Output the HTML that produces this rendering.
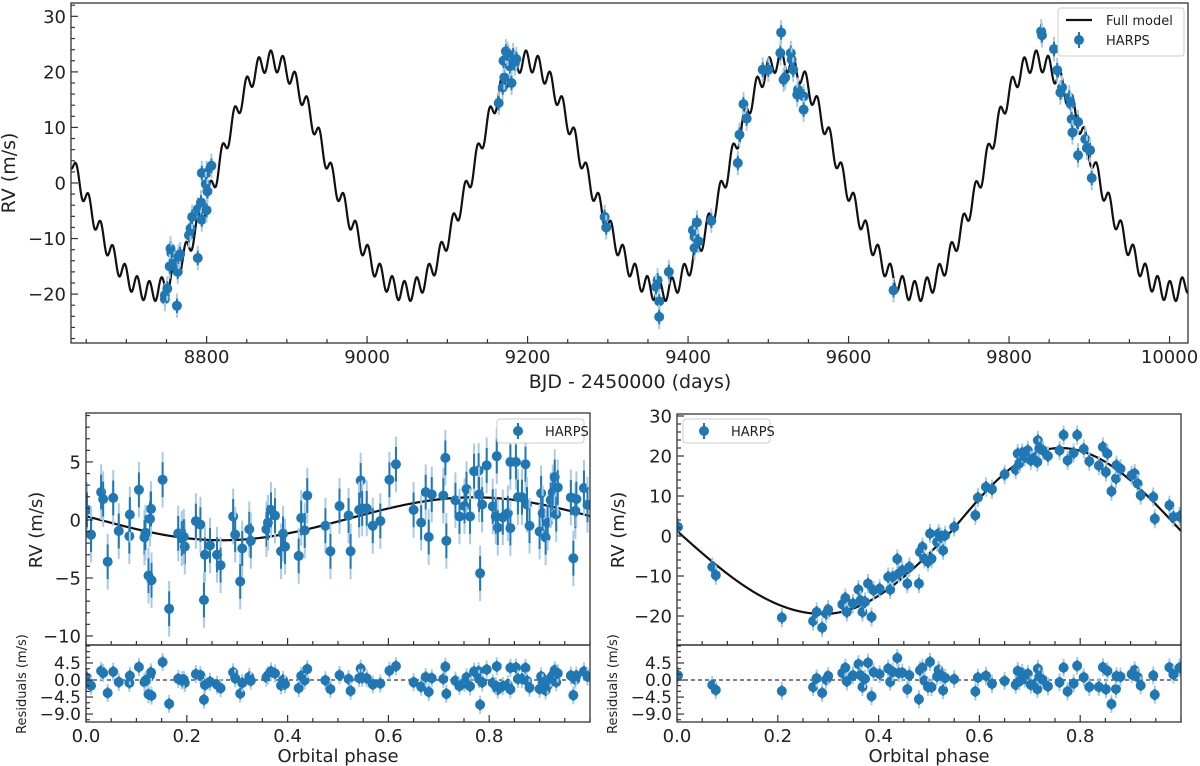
<!DOCTYPE html>
<html><head><meta charset="utf-8">
<style>
body{margin:0;background:#fff;}
svg{display:block;font-family:"DejaVu Sans","Liberation Sans",sans-serif;}
</style></head>
<body>
<svg id="fig" width="1200" height="766" viewBox="0 0 1200 766" xmlns="http://www.w3.org/2000/svg">
<rect width="1200" height="766" fill="#fff"/>
</svg>
<script>
const topTimes=[8748,8748,8751,8755,8756,8754,8760,8763,8764,8765,8767,8778,8780,8782,8789,8789,8793,8794,8794,8800,8799,8800,8801,8806,
9164,9169,9171,9170,9173,9176,9178,9180,9182,9184,9186,9175,9296,9298,
9362,9360,9364,9364,9376,9406,9408,9411,9408,9413,9429,9462,9464,9469,9473,9493,9500,9516,9515,9519,9521,9528,9529,9531,9537,9536,9544,9544,
9656,9840,9841,9856,9860,9866,9864,9875,9877,9878,9886,9879,9895,9897,9901,9886,9903];
const topRV=[-20.9,-20.2,-19,-11.8,-12.6,-15,-14.5,-22.1,-16,-13.3,-12.8,-9.4,-8.2,-6.1,-13.5,-4.7,-3.5,-6.6,1.8,1.8,-0.2,-4.9,-1.5,3.1,
14.4,17.2,19,22,23.7,22.8,21,18,23,21.5,22.3,23.3,-6.1,-8,
-17.5,-18.7,-21.3,-24.1,-16,-8.5,-9.7,-7.1,-11.7,-10.5,-6.8,3.6,8.7,14.2,11.6,20.4,20.4,27.1,23.4,18.6,19,23.4,22.2,20.4,16.8,15.9,15.6,13.2,
-19.3,27.3,26.6,24.1,20.3,17.2,16.3,15.4,14.2,11.5,11,9.1,7.9,6.3,5.9,5,0.9];
const leftPhase=[0.002,0.01,0.03,0.034,0.043,0.054,0.065,0.086,0.087,0.105,0.116,0.124,0.127,0.13,0.129,0.118,0.152,0.165,0.183,0.19,0.196,0.194,0.218,0.227,0.234,0.236,0.246,0.26,0.267,0.292,0.296,0.306,0.31,0.324,0.327,0.358,0.361,0.367,0.375,0.387,0.391,0.395,0.422,0.427,0.434,0.439,0.475,0.485,0.503,0.521,0.525,0.545,0.542,0.548,0.557,0.569,0.584,0.602,0.615,0.65,0.665,0.674,0.68,0.686,0.709,0.713,0.715,0.733,0.741,0.751,0.755,0.762,0.77,0.779,0.78,0.782,0.786,0.795,0.807,0.815,0.817,0.813,0.827,0.837,0.842,0.842,0.853,0.857,0.865,0.872,0.875,0.88,0.9,0.903,0.906,0.912,0.916,0.922,0.926,0.93,0.933,0.936,0.962,0.967,0.971,0.973,0.988,0.995];
const leftRV=[0.87,-1.27,2.4,1.8,-3.6,1.9,-0.95,-1.4,0.46,2.6,-1.5,-4.8,0.09,-5.2,0.95,-1.1,3.47,-7.66,-1.16,-1.6,-2.3,-1.45,-0.1,-0.4,-6.9,-3.0,-2.2,-3.0,-3.9,0.3,-1.27,-5.3,-2.46,-0.8,-1.8,-0.8,-0.23,0.87,0.38,-2.7,-1.2,-2.3,-3.1,0.17,-0.9,2.1,-0.5,-2.7,1.2,0.38,-2.7,3.4,0.87,1.0,1.0,-0.5,-0.09,3.47,4.8,0.87,-0.23,2.4,-1.47,2.2,2.1,5.35,-1.8,1.7,0.3,1.2,2.66,0.3,4.2,4.25,2.2,-4.6,1.33,4.7,1.16,5.5,-0.66,0.3,0.23,0.58,-0.7,5.0,5.0,1.97,1.97,4.8,1.33,-0.5,-1.0,2.3,0.58,-1.5,-0.23,1.7,2.37,3.7,0.5,2.8,1.94,-3.3,0.78,1.8,2.75,1.3];
const rightPhase=[0.002,0.07,0.077,0.208,0.27,0.277,0.288,0.296,0.3,0.328,0.334,0.337,0.349,0.36,0.364,0.368,0.373,0.379,0.386,0.39,0.402,0.419,0.423,0.428,0.437,0.44,0.447,0.457,0.461,0.48,0.482,0.487,0.491,0.498,0.502,0.505,0.516,0.519,0.523,0.528,0.532,0.55,0.592,0.597,0.613,0.625,0.65,0.672,0.676,0.679,0.685,0.69,0.696,0.702,0.71,0.715,0.716,0.719,0.726,0.736,0.759,0.767,0.775,0.787,0.794,0.807,0.818,0.837,0.845,0.851,0.854,0.862,0.871,0.872,0.88,0.902,0.908,0.914,0.92,0.945,0.948,0.977,0.985,0.997];
const rightRV=[2.25,-7.75,-9.8,-20.4,-21.25,-19,-22.9,-19.4,-18.4,-17.1,-15.5,-19,-16.9,-13.4,-16.1,-19,-16.5,-11.9,-20.25,-13.6,-13.2,-10.25,-13.4,-10.25,-5.75,-9.4,-8.6,-11.9,-7.75,-11.9,-4,-2.75,-5.7,-6.5,0.6,-5.7,-1.5,0.6,-0.25,-3.6,0.17,2.25,5.2,9.6,12.25,11.7,15.4,16.6,20.6,18.1,20.8,19.75,21.4,18.9,19.6,18.5,23.9,22,21.4,20,21.4,25.25,18.9,20.75,25.25,21.75,18.7,17.6,22.25,16,20.6,11.2,14.4,17.7,16.8,15.2,15.6,13.1,10.2,9.75,4.3,7.7,4.75,4.9];
const topXTicks=[8800,9000,9200,9400,9600,9800,10000];
const topYTicks=[-20,-10,0,10,20,30];
const phaseTicks=[0,0.2,0.4,0.6,0.8];
const leftYTicks=[-10,-5,0,5];
const rightYTicks=[-20,-10,0,10,20,30];
const residTicks=[-9,-4.5,0,4.5];

const NS="http://www.w3.org/2000/svg";
const svg=document.getElementById('fig');
const BLUE="#1f77b4", LIGHT="#a9cbe6";
function el(tag,attrs,parent){const e=document.createElementNS(NS,tag);for(const k in attrs)e.setAttribute(k,attrs[k]);(parent||svg).appendChild(e);return e;}
function scale(d0,d1,r0,r1){return v=>r0+(v-d0)*(r1-r0)/(d1-d0);}
const cKnots=[0,0.24,0.53,0.785,1];
function modelC(ph){
  const p=((ph-0.76)%1+1)%1;
  let i=0;while(i<3&&p>cKnots[i+1])i++;
  const ang=(i+(p-cKnots[i])/(cKnots[i+1]-cKnots[i]))*Math.PI/2;
  return 1.25+20.75*Math.cos(ang);
}
function modelB(ph){return 0.1-1.85*Math.cos(2*Math.PI*(ph-0.27));}
function phaseC(t){return 0.76+(t-8880)/318;}
function phaseB(t){return 0.77+(t-8880)/15.14;}

let clipId=0;
function panel(name,x0,x1,y0,y1,xd,yd){
  const g=el('g',{});
  
  
  const id='clip'+(clipId++);
  const cp=el('clipPath',{id:id},g);el('rect',{x:x0,y:y0,width:x1-x0,height:y1-y0},cp);
  const plot=el('g',{'clip-path':'url(#'+id+')'},g);
  return {g,plot,x0,x1,y0,y1,sx:scale(xd[0],xd[1],x0,x1),sy:scale(yd[0],yd[1],y1,y0),xd,yd};
}
function frame(p){el('rect',{x:p.x0,y:p.y0,width:p.x1-p.x0,height:p.y1-p.y0,fill:'none',stroke:'#333',"stroke-width":1.3},p.g);}
function xticks(p,majors,minorStep,labels,fs,ybottom){
  const g=el('g',{},p.g);
  
  
  for(let v=Math.ceil(p.xd[0]/minorStep)*minorStep;v<=p.xd[1]+1e-9;v+=minorStep){
    const x=p.sx(v);const maj=majors.some(m=>Math.abs(m-v)<1e-6);
    const L=maj?7:4;
    el('line',{x1:x,x2:x,y1:ybottom,y2:ybottom-L,stroke:'#333','stroke-width':1.2},g);
  }
  if(labels){majors.forEach(m=>{const t=el('text',{x:p.sx(m),y:ybottom+20,'text-anchor':'middle','font-size':fs,fill:'#222'},g);t.textContent=labels(m);});}
}
function yticks(p,majors,minorStep,labels,fs){
  const g=el('g',{},p.g);
  
  
  const lo=Math.min(...p.yd),hi=Math.max(...p.yd);
  for(let v=Math.ceil(lo/minorStep)*minorStep;v<=hi+1e-9;v+=minorStep){
    const y=p.sy(v);const maj=majors.some(m=>Math.abs(m-v)<1e-6);
    el('line',{x1:p.x0,x2:p.x0+(maj?7:4),y1:y,y2:y,stroke:'#333','stroke-width':1.2},g);
  }
  majors.forEach(m=>{const t=el('text',{x:p.x0-5,y:p.sy(m)+fs*0.36,'text-anchor':'end','font-size':fs,fill:'#222'},g);t.textContent=labels(m);});
}
function points(p,xs,ys,eIn,eOut,r,name){
  const g=el('g',{},p.plot);
  
  
  xs.forEach((xv,i)=>{
    const x=p.sx(xv),y=p.sy(ys[i]);
    el('line',{x1:x,x2:x,y1:p.sy(ys[i]-eOut),y2:p.sy(ys[i]+eOut),stroke:LIGHT,'stroke-width':2},g);
    el('line',{x1:x,x2:x,y1:p.sy(ys[i]-eIn),y2:p.sy(ys[i]+eIn),stroke:BLUE,'stroke-width':2},g);
    const c=el('circle',{cx:x,cy:y,r:r,fill:BLUE},g);
    
    
  });
}
function curve(p,f,n,name,w){
  let d='';for(let i=0;i<=n;i++){const xv=p.xd[0]+(p.xd[1]-p.xd[0])*i/n;d+=(i?'L':'M')+p.sx(xv).toFixed(2)+','+p.sy(f(xv)).toFixed(2);}
  const path=el('path',{d:d,fill:'none',stroke:'#111','stroke-width':w||2.2},p.plot);
  
  
}
function txt(x,y,s,fs,name,rot){const t=el('text',{x:x,y:y,'font-size':fs,'text-anchor':'middle',fill:'#222'});if(rot)t.setAttribute('transform','rotate(-90 '+x+' '+y+')');t.textContent=s;return t;}
function legend(x,y,w,h,items,name){
  const g=el('g',{});
  
  
  el('rect',{x:x,y:y,width:w,height:h,rx:3,fill:'#fff',stroke:'#ccc','stroke-width':1},g);
  items.forEach((it,i)=>{
    const cy=y+12+i*20;
    if(it.type==='line'){el('line',{x1:x+8,x2:x+34,y1:cy,y2:cy,stroke:'#111','stroke-width':2.2},g);}
    else{el('line',{x1:x+21,x2:x+21,y1:cy-8,y2:cy+8,stroke:BLUE,'stroke-width':2},g);el('circle',{cx:x+21,cy:cy,r:5,fill:BLUE},g);}
    const t=el('text',{x:x+48,y:cy+5,'font-size':13,fill:'#222'},g);t.textContent=it.label;
  });
}

// ---- top panel
const T=panel('rv-timeseries-panel',71,1188,3,343,[8631,10023],[-28.8,32.4]);
curve(T,t=>modelC(phaseC(t))+modelB(phaseB(t))-0.1,2800,'full-model-line',2.2);
points(T,topTimes,topRV,1.3,2.2,5,'harps-points');
frame(T);
xticks(T,topXTicks,50,v=>String(v),18,343);
yticks(T,topYTicks,2,v=>String(v).replace('-','\u2212'),18);
txt(630,388,'BJD - 2450000 (days)',19,'x-axis-title');
txt(15,173,'RV (m/s)',19,'y-axis-title',true);
legend(1058,8,126,48,[{type:'line',label:'Full model'},{type:'pt',label:'HARPS'}],'top-legend');

// ---- bottom left
const L=panel('planet-b-phase-panel',86,590,413,645,[0,1],[-10.78,9.22]);
curve(L,modelB,400,'planet-b-model-line',2.2);
points(L,leftPhase,leftRV,1.5,2.4,5,'planet-b-points');
frame(L);
xticks(L,phaseTicks,0.05,null,16,645);
yticks(L,leftYTicks,1,v=>String(v).replace('-','\u2212'),18);
legend(497,419,87,24,[{type:'pt',label:'HARPS'}],'planet-b-legend');
txt(42,530,'RV (m/s)',18,'planet-b-y-title',true);
const leftRes=leftRV.map((v,i)=>v-modelB(leftPhase[i]));
const LR=panel('planet-b-residual-panel',86,590,645,722,[0,1],[-11.1,9.26]);
const z1=el('line',{x1:86,x2:590,y1:LR.sy(0),y2:LR.sy(0),stroke:'#333','stroke-width':1.2,'stroke-dasharray':'4,3'},LR.plot);

points(LR,leftPhase,leftRes,1.5,2.4,5,'planet-b-residuals');
frame(LR);
xticks(LR,phaseTicks,0.05,v=>v.toFixed(1),18,722);
yticks(LR,residTicks,1.5,v=>v.toFixed(1).replace('-','\u2212'),17);
txt(26,684,'Residuals (m/s)',13,'planet-b-residual-y-title',true);
txt(338,762,'Orbital phase',18,'planet-b-x-title');

// ---- bottom right
const R=panel('planet-c-phase-panel',677,1181,414,645,[0,1],[-27.25,30.5]);
curve(R,modelC,400,'planet-c-model-line',2.2);
points(R,rightPhase,rightRV,1.5,2.4,5,'planet-c-points');
frame(R);
xticks(R,phaseTicks,0.05,null,16,645);
yticks(R,rightYTicks,2,v=>String(v).replace('-','\u2212'),18);
legend(683,419,87,24,[{type:'pt',label:'HARPS'}],'planet-c-legend');
txt(624,530,'RV (m/s)',18,'planet-c-y-title',true);
const rightRes=rightRV.map((v,i)=>v-modelC(rightPhase[i]));
const RR=panel('planet-c-residual-panel',677,1181,645,722,[0,1],[-11.1,9.26]);
const z2=el('line',{x1:677,x2:1181,y1:RR.sy(0),y2:RR.sy(0),stroke:'#333','stroke-width':1.2,'stroke-dasharray':'4,3'},RR.plot);

points(RR,rightPhase,rightRes,1.5,2.4,5,'planet-c-residuals');
frame(RR);
xticks(RR,phaseTicks,0.05,v=>v.toFixed(1),18,722);
yticks(RR,residTicks,1.5,v=>v.toFixed(1).replace('-','\u2212'),17);
txt(617,684,'Residuals (m/s)',13,'planet-c-residual-y-title',true);
txt(929,762,'Orbital phase',18,'planet-c-x-title');
</script>
</body></html>
